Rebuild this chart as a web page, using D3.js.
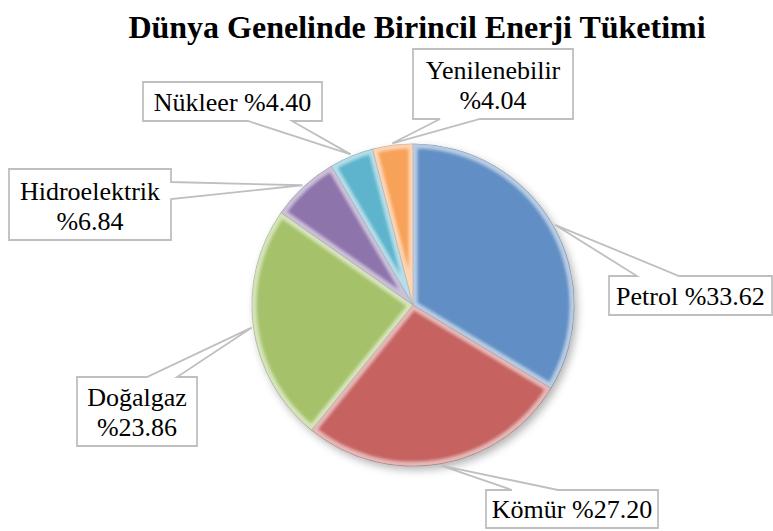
<!DOCTYPE html>
<html>
<head>
<meta charset="utf-8">
<script src="https://cdn.jsdelivr.net/npm/d3@7"></script>
<style>
  @font-face { font-family: "ChartSerif"; src: local("Liberation Serif"), local("LiberationSerif"), local("Tinos"), local("Times New Roman"); font-weight: normal; }
  @font-face { font-family: "ChartSerif"; src: local("Liberation Serif Bold"), local("LiberationSerif-Bold"), local("Tinos Bold"), local("Times New Roman Bold"); font-weight: bold; }
  svg text { font-family: "Liberation Serif", "ChartSerif", Tinos, "Times New Roman", Times; }
</style>
</head>
<body style="margin:0">
<svg id="chart" width="773" height="531"></svg>
<script>
// ---- data ----
const chartTitle = "Dünya Genelinde Birincil Enerji Tüketimi";
const categories = ["Petrol", "Kömür", "Doğalgaz", "Hidroelektrik", "Nükleer", "Yenilenebilir"];
const values = [33.62, 27.20, 23.86, 6.84, 4.40, 4.04];
const colors = ["#4F81BD", "#C0504D", "#9BBB59", "#8064A2", "#4BACC6", "#F79646"];
const twoLine = [false, false, true, true, false, true];

// ---- layout (callout boxes) ----
const callouts = [
  { box: [609, 276, 772, 315], side: "top",    base: [637, 679] },
  { box: [486, 490, 658, 528], side: "top",    base: [512, 558] },
  { box: [77, 377, 197, 446],  side: "top",    base: [147, 177] },
  { box: [9, 169, 171, 240],   side: "right",  base: [182, 199] },
  { box: [143, 82, 322, 121],  side: "bottom", base: [248, 292] },
  { box: [413, 49, 573, 119],  side: "bottom", base: [440, 480] }
];

const svg = d3.select("#chart");
const cx = 413, cy = 305, r = 161;

const defs = svg.append("defs");

const sh = defs.append("filter").attr("id", "shadow").attr("x", "-20%").attr("y", "-20%").attr("width", "140%").attr("height", "140%");
sh.append("feGaussianBlur").attr("in", "SourceGraphic").attr("stdDeviation", 4);

const sb = defs.append("filter").attr("id", "soft").attr("x", "-10%").attr("y", "-10%").attr("width", "120%").attr("height", "120%");
sb.append("feGaussianBlur").attr("in", "SourceGraphic").attr("stdDeviation", 1.6);

const eg = defs.append("linearGradient").attr("id", "edge")
  .attr("gradientUnits", "userSpaceOnUse")
  .attr("x1", cx - r * 0.7).attr("y1", cy - r * 0.7).attr("x2", cx + r * 0.7).attr("y2", cy + r * 0.7);
eg.append("stop").attr("offset", "0%").attr("stop-color", "#fff").attr("stop-opacity", 0.55);
eg.append("stop").attr("offset", "50%").attr("stop-color", "#fff").attr("stop-opacity", 0.25);
eg.append("stop").attr("offset", "75%").attr("stop-color", "#000").attr("stop-opacity", 0.1);
eg.append("stop").attr("offset", "100%").attr("stop-color", "#000").attr("stop-opacity", 0.35);

colors.forEach((c, i) => {
  const g = defs.append("linearGradient").attr("id", "grad" + i)
    .attr("gradientUnits", "userSpaceOnUse")
    .attr("x1", cx).attr("y1", cy - r).attr("x2", cx).attr("y2", cy + r);
  g.append("stop").attr("offset", "0%").attr("stop-color", d3.interpolateRgb(c, "#fff")(0.1));
  g.append("stop").attr("offset", "100%").attr("stop-color", d3.interpolateRgb(c, "#000")(0.06));
});

svg.append("text")
  .attr("x", 417).attr("y", 38)
  .attr("text-anchor", "middle")
  .attr("font-weight", "bold")
  .attr("font-size", 32)
  .attr("fill", "#000")
  .text(chartTitle);

const pie = d3.pie().sort(null).value(d => d);
const arcs = pie(values);
const arc = d3.arc().innerRadius(0).outerRadius(r);
const tipArc = d3.arc().innerRadius(r + 2).outerRadius(r + 2);

arcs.forEach((a, i) => {
  defs.append("clipPath").attr("id", "clip" + i)
    .append("path").attr("d", arc(a)).attr("transform", `translate(${cx},${cy})`);
});

svg.append("circle").attr("cx", cx + 3).attr("cy", cy + 4).attr("r", r)
  .attr("fill", "#000").attr("fill-opacity", 0.3).attr("filter", "url(#shadow)");

const pieG = svg.append("g").attr("transform", `translate(${cx},${cy})`);

pieG.selectAll("path.slice")
  .data(arcs)
  .join("path")
  .attr("class", "slice")
  .attr("d", arc)
  .attr("fill", (d, i) => `url(#grad${i})`);

const bevG = svg.append("g");
arcs.forEach((a, i) => {
  bevG.append("g").attr("clip-path", `url(#clip${i})`)
    .append("path")
    .attr("d", arc(a))
    .attr("transform", `translate(${cx},${cy})`)
    .attr("fill", "none")
    .attr("stroke", "url(#edge)")
    .attr("stroke-width", 9)
    .attr("stroke-linejoin", "round")
    .attr("filter", "url(#soft)");
});

pieG.selectAll("path.edge")
  .data(arcs)
  .join("path")
  .attr("class", "edge")
  .attr("d", arc)
  .attr("fill", "none")
  .attr("stroke", (d, i) => d3.interpolateRgb(colors[i], "#000")(0.35))
  .attr("stroke-opacity", 0.6)
  .attr("stroke-width", 0.8);

const calG = svg.append("g");
arcs.forEach((a, i) => {
  const c = callouts[i];
  const [x0, y0, x1, y1] = c.box;
  const t = tipArc.centroid(a);
  const tx = cx + t[0], ty = cy + t[1];
  let p;
  if (c.side === "top") {
    p = `M${x0},${y0}L${c.base[0]},${y0}L${tx},${ty}L${c.base[1]},${y0}L${x1},${y0}L${x1},${y1}L${x0},${y1}Z`;
  } else if (c.side === "bottom") {
    p = `M${x0},${y0}L${x1},${y0}L${x1},${y1}L${c.base[1]},${y1}L${tx},${ty}L${c.base[0]},${y1}L${x0},${y1}Z`;
  } else if (c.side === "right") {
    p = `M${x0},${y0}L${x1},${y0}L${x1},${c.base[0]}L${tx},${ty}L${x1},${c.base[1]}L${x1},${y1}L${x0},${y1}Z`;
  } else {
    p = `M${x0},${y0}L${x1},${y0}L${x1},${y1}L${x0},${y1}L${x0},${c.base[1]}L${tx},${ty}L${x0},${c.base[0]}Z`;
  }
  calG.append("path").attr("d", p)
    .attr("fill", "#fff").attr("stroke", "#BFBFBF").attr("stroke-width", 1.8)
    .attr("stroke-linejoin", "miter");

  const pct = "%" + values[i].toFixed(2);
  const lines = twoLine[i] ? [categories[i], pct] : [categories[i] + " " + pct];
  const mx = (x0 + x1) / 2;
  lines.forEach((ln, k) => {
    calG.append("text")
      .attr("x", mx)
      .attr("y", y1 - 10 - (lines.length - 1 - k) * 30)
      .attr("text-anchor", "middle")
      .attr("font-size", 26)
      .attr("fill", "#000")
      .text(ln);
  });
});
</script>
</body>
</html>
